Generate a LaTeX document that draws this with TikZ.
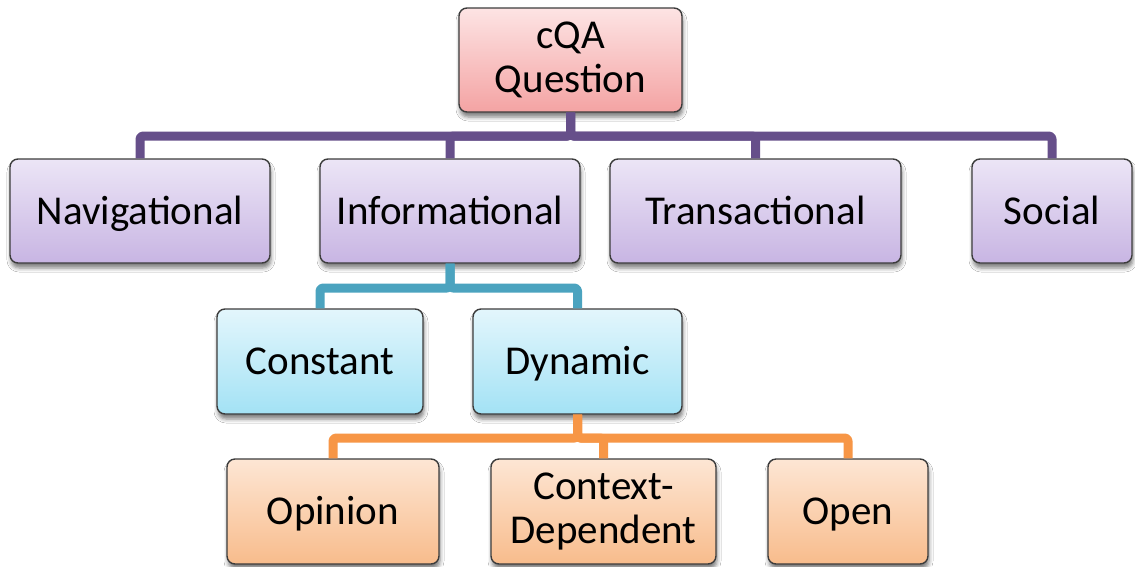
\documentclass[tikz,border=0pt]{standalone}
\usepackage{fontspec}
\setmainfont{Carlito}
\usetikzlibrary{shadows.blur}
\definecolor{pconn}{HTML}{664F8A}
\definecolor{tconn}{HTML}{4BA3BF}
\definecolor{oconn}{HTML}{F79646}
\definecolor{boxborder}{HTML}{3C3C3C}
\definecolor{pinktop}{HTML}{FDE4E4}
\definecolor{pinkbot}{HTML}{F4A3A3}
\definecolor{purtop}{HTML}{ECE5F6}
\definecolor{purbot}{HTML}{C8B5E3}
\definecolor{blutop}{HTML}{E3F6FC}
\definecolor{blubot}{HTML}{A3E2F5}
\definecolor{orgtop}{HTML}{FDE6D4}
\definecolor{orgbot}{HTML}{F8BC8C}
\begin{document}
\begin{tikzpicture}[x=1pt,y=-1pt,
  box/.style={draw=boxborder, line width=1.4pt, rounded corners=8pt, inner sep=0pt,
    align=center, font=\fontsize{41}{44}\selectfont, minimum height=104pt,
    blur shadow={shadow xshift=1pt, shadow yshift=-5pt, shadow blur radius=4pt, shadow opacity=50}},
  one/.style={text height=26.4pt, text depth=0pt},
  pinkbox/.style={box, top color=pinktop, bottom color=pinkbot},
  purbox/.style={box, one, top color=purtop, bottom color=purbot},
  blubox/.style={box, one, top color=blutop, bottom color=blubot},
  orgbox/.style={box, top color=orgtop, bottom color=orgbot},
  conn/.style={line width=9pt, rounded corners=3pt, line join=round},
  pc/.style={conn, draw=pconn},
  tc/.style={conn, draw=tconn},
  oc/.style={conn, draw=oconn}]
\useasboundingbox (0,0) rectangle (1135,566);
\fill[white] (0,0) rectangle (1135,566);

\node[pinkbox, minimum width=223pt] (q) at (570.5,60) {cQA\\Question};

\node[purbox, minimum width=260pt] (nav) at (140,211) {Navigational};
\node[purbox, minimum width=260pt] (inf) at (450,211) {Informational};
\node[purbox, minimum width=291pt] (tra) at (755.5,211) {Transactional};
\node[purbox, minimum width=160pt] (soc) at (1052,211) {Social};

\node[blubox, minimum width=206pt, minimum height=105pt] (con) at (320,361.5) {Constant};
\node[blubox, minimum width=209pt, minimum height=105pt] (dyn) at (577.5,361.5) {Dynamic};

\node[orgbox, one, minimum width=212pt, minimum height=105pt] (opi) at (333,511.5) {Opinion};
\node[orgbox, minimum width=225pt, minimum height=105pt] (ctx) at (603.5,511.5) {Context-\\Dependent};
\node[orgbox, one, minimum width=160pt, minimum height=105pt] (ope) at (848,511.5) {Open};

\coordinate (pbus) at (0,136);
\coordinate (tbus) at (0,288);
\coordinate (obus) at (0,438);

\foreach \c in {nav,inf,tra,soc}
  \draw[pc] (q.south) -- (q.south |- pbus) -| (\c.north);
\foreach \c in {con,dyn}
  \draw[tc] (inf.south) -- (inf.south |- tbus) -| (\c.north);
\foreach \c in {opi,ctx,ope}
  \draw[oc] (dyn.south) -- (dyn.south |- obus) -| (\c.north);
\end{tikzpicture}
\end{document}
